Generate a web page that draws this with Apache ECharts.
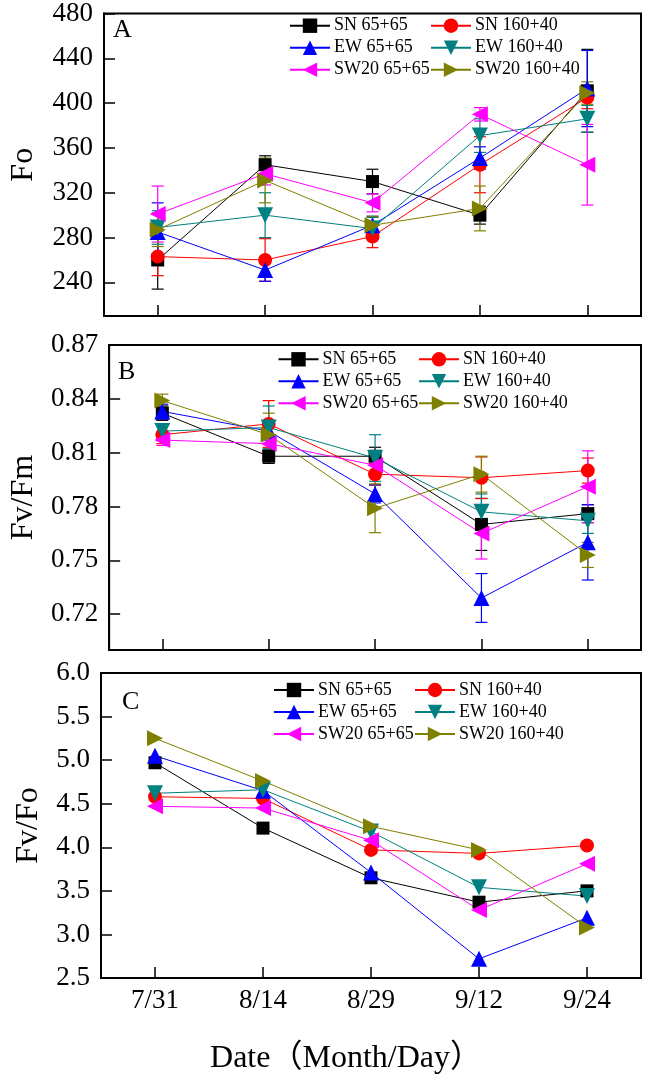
<!DOCTYPE html>
<html>
<head>
<meta charset="utf-8">
<script src="https://cdn.jsdelivr.net/npm/echarts@6/dist/echarts.min.js"></script>
<style>
html,body{margin:0;padding:0;background:#fff;}
#chart{width:650px;height:1081px;}
</style>
</head>
<body>
<div id="chart"></div>
<script>
// ---------- data ----------
const dates = ['7/31', '8/14', '8/29', '9/12', '9/24'];
const seriesNames = ['SN 65+65', 'SN 160+40', 'EW 65+65', 'EW 160+40', 'SW20 65+65', 'SW20 160+40'];

// Panel A: Fo
const fo_SN65   = [260, 345, 330, 300, 411];
const fo_SN160  = [263, 260, 281, 345, 405];
const fo_EW65   = [285, 251, 291, 351, 413];
const fo_EW160  = [289, 300, 288, 371, 386];
const fo_SW65   = [301, 337, 311, 390, 345];
const fo_SW160  = [287, 331, 291, 306, 409];
// Panel A error bars
const foErr_SN65  = [26, 8, 11, 8, 37];
const foErr_SN160 = [17, 19, 10, 25, 10];
const foErr_EW65  = [26, 10, 8, 10, 34];
const foErr_EW160 = [15, 20, 10, 15, 12];
const foErr_SW65  = [25, 10, 8, 6, 36];
const foErr_SW160 = [15, 20, 8, 20, 10];

// Panel B: Fv/Fm
const fvfm_SN65  = [0.832, 0.808, 0.808, 0.770, 0.776];
const fvfm_SN160 = [0.820, 0.826, 0.798, 0.796, 0.800];
const fvfm_EW65  = [0.833, 0.822, 0.787, 0.729, 0.760];
const fvfm_EW160 = [0.822, 0.824, 0.807, 0.777, 0.772];
const fvfm_SW65  = [0.817, 0.815, 0.803, 0.765, 0.791];
const fvfm_SW160 = [0.839, 0.820, 0.779, 0.798, 0.753];
// Panel B error bars
const fvfmErr_SN65  = [0.004, 0.004, 0.005, 0.0145, 0.005];
const fvfmErr_SN160 = [0.005, 0.013, 0.006, 0.0116, 0.007];
const fvfmErr_EW65  = [0.004, 0.005, 0.005, 0.0136, 0.021];
const fvfmErr_EW160 = [0.004, 0.012, 0.013, 0.010, 0.007];
const fvfmErr_SW65  = [0.003, 0.004, 0.004, 0.0143, 0.020];
const fvfmErr_SW160 = [0.0036, 0.012, 0.0136, 0.010, 0.007];

// Panel C: Fv/Fo
const fvfo_SN65  = [4.97, 4.22, 3.65, 3.37, 3.50];
const fvfo_SN160 = [4.58, 4.56, 3.97, 3.93, 4.02];
const fvfo_EW65  = [5.05, 4.65, 3.71, 2.72, 3.19];
const fvfo_EW160 = [4.62, 4.66, 4.18, 3.54, 3.44];
const fvfo_SW65  = [4.47, 4.45, 4.08, 3.28, 3.81];
const fvfo_SW160 = [5.25, 4.76, 4.24, 3.97, 3.08];

// tick labels
const foTicks   = [240, 280, 320, 360, 400, 440, 480];
const fvfmTicks = [0.72, 0.75, 0.78, 0.81, 0.84, 0.87];
const panelLetters = ['A', 'B', 'C'];
const yNames = ['Fo', 'Fv/Fm', 'Fv/Fo'];
const xTitle = 'Date（Month/Day）';

// ---------- styles ----------
const FONT = '"Liberation Serif", "Times New Roman", "Noto Sans CJK SC", serif';
const colors = ['#000000', '#ff0000', '#0000ff', '#008080', '#ff00ff', '#808000'];
const symbols = ['rect', 'circle', 'triangle', 'triangle', 'triangle', 'triangle'];
const rotates = [0, 0, 0, 180, 90, -90];
const sizes = [13, 14, 16, 16, 16, 16];

const panelValues = [
  [fo_SN65, fo_SN160, fo_EW65, fo_EW160, fo_SW65, fo_SW160],
  [fvfm_SN65, fvfm_SN160, fvfm_EW65, fvfm_EW160, fvfm_SW65, fvfm_SW160],
  [fvfo_SN65, fvfo_SN160, fvfo_EW65, fvfo_EW160, fvfo_SW65, fvfo_SW160]
];
const panelErrors = [
  [foErr_SN65, foErr_SN160, foErr_EW65, foErr_EW160, foErr_SW65, foErr_SW160],
  [fvfmErr_SN65, fvfmErr_SN160, fvfmErr_EW65, fvfmErr_EW160, fvfmErr_SW65, fvfmErr_SW160],
  null
];

const grids = [
  {left: 101, right: 9, top: 12, height: 304},
  {left: 101, right: 9, top: 345, height: 305},
  {left: 101, right: 9, top: 673, height: 305}
];
grids.forEach(g => { g.show = true; g.borderColor = '#000'; g.borderWidth = 2; g.backgroundColor = 'transparent'; });

const labelStyle = {fontFamily: FONT, fontSize: 27, color: '#000'};

const xAxes = [0, 1, 2].map(i => ({
  type: 'category',
  gridIndex: i,
  data: dates,
  boundaryGap: true,
  axisLine: {show: true, lineStyle: {color: '#000', width: 2}},
  axisTick: {show: true, inside: true, alignWithLabel: true, length: 11, lineStyle: {color: '#000', width: 1.5}},
  axisLabel: Object.assign({show: i === 2, margin: 9}, labelStyle),
  splitLine: {show: false}
}));

const yCommon = (i) => ({
  type: 'value',
  gridIndex: i,
  name: yNames[i],
  nameLocation: 'middle',
  nameRotate: 90,
  nameTextStyle: {fontFamily: FONT, fontSize: 32, color: '#000'},
  axisLine: {show: true, lineStyle: {color: '#000', width: 2}},
  axisTick: {show: true, inside: true, length: 11, lineStyle: {color: '#000', width: 1.5}},
  splitLine: {show: false}
});

const yAxes = [
  Object.assign(yCommon(0), {
    min: 210, max: 480, nameGap: 64,
    axisLabel: Object.assign({margin: 11, customValues: foTicks, showMinLabel: true, showMaxLabel: true}, labelStyle),
    axisTick: {show: true, inside: true, length: 11, customValues: foTicks, lineStyle: {color: '#000', width: 1.5}}
  }),
  Object.assign(yCommon(1), {
    min: 0.70, max: 0.87, nameGap: 69,
    axisLabel: Object.assign({margin: 11, customValues: fvfmTicks, formatter: v => v.toFixed(2)}, labelStyle),
    axisTick: {show: true, inside: true, length: 11, customValues: fvfmTicks, lineStyle: {color: '#000', width: 1.5}}
  }),
  Object.assign(yCommon(2), {
    min: 2.5, max: 6.0, interval: 0.5, nameGap: 56,
    axisLabel: Object.assign({margin: 11, formatter: v => v.toFixed(1)}, labelStyle)
  })
];

const series = [];
for (let p = 0; p < 3; p++) {
  if (panelErrors[p]) {
    for (let s = 0; s < 6; s++) {
      const vals = panelValues[p][s];
      const errs = panelErrors[p][s];
      const color = colors[s];
      series.push({
        type: 'custom',
        name: 'err_' + p + '_' + s,
        xAxisIndex: p, yAxisIndex: p,
        silent: true,
        z: 2,
        encode: {x: 0, y: 1},
        data: vals.map((v, k) => [k, v, errs[k]]),
        renderItem: function (params, api) {
          const x = api.value(0), y = api.value(1), e = api.value(2);
          const hi = api.coord([x, y + e]);
          const lo = api.coord([x, y - e]);
          const cw = 6;
          const st = {stroke: color, lineWidth: 1.2};
          return {
            type: 'group',
            children: [
              {type: 'line', shape: {x1: hi[0], y1: hi[1], x2: lo[0], y2: lo[1]}, style: st},
              {type: 'line', shape: {x1: hi[0] - cw, y1: hi[1], x2: hi[0] + cw, y2: hi[1]}, style: st},
              {type: 'line', shape: {x1: lo[0] - cw, y1: lo[1], x2: lo[0] + cw, y2: lo[1]}, style: st}
            ]
          };
        }
      });
    }
  }
  for (let s = 0; s < 6; s++) {
    series.push({
      type: 'line',
      name: seriesNames[s],
      xAxisIndex: p, yAxisIndex: p,
      data: panelValues[p][s],
      symbol: symbols[s],
      symbolRotate: rotates[s],
      symbolSize: sizes[s],
      showAllSymbol: true,
      z: 3,
      lineStyle: {color: colors[s], width: 1},
      itemStyle: {color: colors[s], borderWidth: 0},
      emphasis: {disabled: true},
      animation: false
    });
  }
}

// legends: two columns per panel
const legendPos = [
  {c1: 289, c2: 430, row: 25.7},
  {c1: 277.5, c2: 418, row: 359.3},
  {c1: 273, c2: 414, row: 690}
];
const legends = [];
legendPos.forEach(lp => {
  [[0, 2, 4], [1, 3, 5]].forEach((idxs, col) => {
    legends.push({
      orient: 'vertical',
      left: col === 0 ? lp.c1 : lp.c2,
      top: lp.row - 9,
      itemWidth: 40,
      itemHeight: 18,
      itemGap: 4,
      padding: 0,
      selectedMode: false,
      data: idxs.map(k => seriesNames[k]),
      textStyle: {fontFamily: FONT, fontSize: 18, color: '#000', lineHeight: 18, padding: [0, 0, 0, -1]}
    });
  });
});

const graphics = [
  {type: 'text', left: 113, top: 17, style: {text: panelLetters[0], font: '26px ' + FONT, fill: '#000'}},
  {type: 'text', left: 118, top: 359, style: {text: panelLetters[1], font: '26px ' + FONT, fill: '#000'}},
  {type: 'text', left: 122, top: 689, style: {text: panelLetters[2], font: '26px ' + FONT, fill: '#000'}},
  {type: 'text', x: 346, y: 1043, style: {text: xTitle, font: '32px ' + FONT, fill: '#000', textAlign: 'center', textVerticalAlign: 'top'}}
];

const chart = echarts.init(document.getElementById('chart'), null, {renderer: 'canvas'});
chart.setOption({
  animation: false,
  backgroundColor: '#fff',
  grid: grids,
  xAxis: xAxes,
  yAxis: yAxes,
  legend: legends,
  series: series,
  graphic: graphics
});
</script>
</body>
</html>
